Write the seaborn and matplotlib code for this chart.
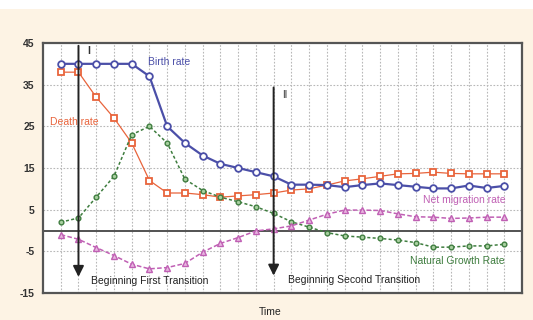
import numpy as np
import pandas as pd
import matplotlib
matplotlib.use("Agg")
import matplotlib.pyplot as plt
import seaborn as sns

time_idx = list(range(26))
birth_rate = [40, 40, 40, 40, 40, 37, 25, 21, 18, 16, 15, 14, 13, 11, 11, 10.9, 10.4, 10.9, 11.3, 10.9, 10.5, 10.1, 10.1, 10.8, 10.2, 10.7]
death_rate = [38, 38, 32, 27, 21, 12, 9, 9, 8.6, 8, 8.3, 8.6, 9, 9.7, 10, 10.9, 11.9, 12.4, 13, 13.6, 13.7, 14, 13.7, 13.6, 13.6, 13.6]
natural_growth = [2, 3, 8, 13, 23, 25, 21, 12.3, 9.6, 8, 6.9, 5.7, 4.1, 2.1, 0.8, -0.5, -1.3, -1.6, -1.9, -2.3, -2.9, -4, -4, -3.7, -3.7, -3.3]
net_migration = [-1, -2.1, -4.1, -6, -8.1, -9.2, -8.9, -7.9, -5.2, -3.1, -1.7, -0.1, 0.4, 1.1, 2.5, 3.9, 4.9, 4.9, 4.8, 4.0, 3.3, 3.2, 2.9, 3.0, 3.2, 3.2]
y_ticks = [45, 35, 25, 15, 5, -5, -15]
transitions = [1, 12]

df = pd.DataFrame({"t": time_idx, "birth": birth_rate, "death": death_rate,
                   "growth": natural_growth, "migr": net_migration})

sns.set_style("white")
plt.rcParams["font.family"] = ["Liberation Sans", "DejaVu Sans"]

cream = "#fdf3e4"
fig = plt.figure(figsize=(5.33, 3.2), dpi=100, facecolor=cream)
fig.patches.append(plt.Rectangle((0, 1 - 9/320), 1, 9/320, transform=fig.transFigure,
                                 facecolor="white", edgecolor="none", zorder=0))
ax = fig.add_axes([43/533, 27/320, 479/533, 250/320])
ax.set_facecolor("white")

blue = "#4b4fa8"
orange = "#e8643c"
green = "#3f7d3f"
magenta = "#c060b4"

sns.lineplot(data=df, x="t", y="death", ax=ax, color=orange, lw=0.9, marker="s",
             markersize=5, markerfacecolor="white", markeredgecolor=orange, markeredgewidth=1.3, zorder=3)
sns.lineplot(data=df, x="t", y="birth", ax=ax, color=blue, lw=1.6, marker="o",
             markersize=4.8, markerfacecolor="white", markeredgecolor=blue, markeredgewidth=1.3, zorder=4)
sns.lineplot(data=df, x="t", y="growth", ax=ax, color=green, lw=1.1, marker="o", linestyle=(0, (2, 1.5)),
             markersize=3.4, markerfacecolor="#a8d0a0", markeredgecolor=green, markeredgewidth=1.0, zorder=3)
sns.lineplot(data=df, x="t", y="migr", ax=ax, color=magenta, lw=1.1, marker="^", linestyle=(0, (3, 1.5)),
             markersize=3.8, markerfacecolor="#e8b8e0", markeredgecolor=magenta, markeredgewidth=1.0, zorder=3)

ax.set_xlim(-1, 26)
ax.set_ylim(-15, 45)
ax.set_yticks(y_ticks)
ax.set_yticklabels([str(v) for v in y_ticks], fontsize=7.5, color="#333333", fontweight="bold")
ax.set_xticks(time_idx)
ax.set_xticklabels([])
ax.tick_params(axis="x", length=0)
ax.tick_params(axis="y", length=0, pad=6)
for v in [35, 25, 15, 5, -5]:
    ax.axhline(v, color="#b8b8b8", lw=0.8, ls=(0, (1.5, 1.5)), zorder=1)
for t in time_idx:
    ax.axvline(t, color="#b8b8b8", lw=0.8, ls=(0, (1.5, 1.5)), zorder=1)
ax.axhline(0, color="#444444", lw=1.3, zorder=2)
for s in ax.spines.values():
    s.set_color("#555555")
    s.set_linewidth(1.6)

ax.set_xlabel("")
ax.set_ylabel("")

# transition arrows
ax.annotate("", xy=(transitions[0], -11.8), xytext=(transitions[0], 45),
            arrowprops=dict(arrowstyle="-|>", color="#222222", lw=1.4, mutation_scale=16), zorder=5)
ax.annotate("", xy=(transitions[1], -11.5), xytext=(transitions[1], 35),
            arrowprops=dict(arrowstyle="-|>", color="#222222", lw=1.4, mutation_scale=16), zorder=5)

ax.text(1.6, 43.0, "I", fontsize=7.5, color="#333333", va="center", ha="center", fontweight="bold")
ax.text(12.6, 32.5, "II", fontsize=7, color="#333333", va="center", ha="center")
ax.text(4.9, 40.5, "Birth rate", fontsize=7.5, color=blue, va="center")
ax.text(-0.6, 26.0, "Death rate", fontsize=7.5, color=orange, va="center")
ax.text(20.4, 7.3, "Net migration rate", fontsize=7.5, color=magenta, va="center")
ax.text(19.7, -7.3, "Natural Growth Rate", fontsize=7.5, color=green, va="center")
ax.text(1.7, -12.2, "Beginning First Transition", fontsize=7.5, color="#222222", va="center")
ax.text(12.8, -11.8, "Beginning Second Transition", fontsize=7.5, color="#222222", va="center")
fig.text(270/533, 1 - 312/320, "Time", fontsize=7.5, color="#222222", ha="center", va="center")

fig.savefig("out.png", dpi=100, facecolor=cream)
